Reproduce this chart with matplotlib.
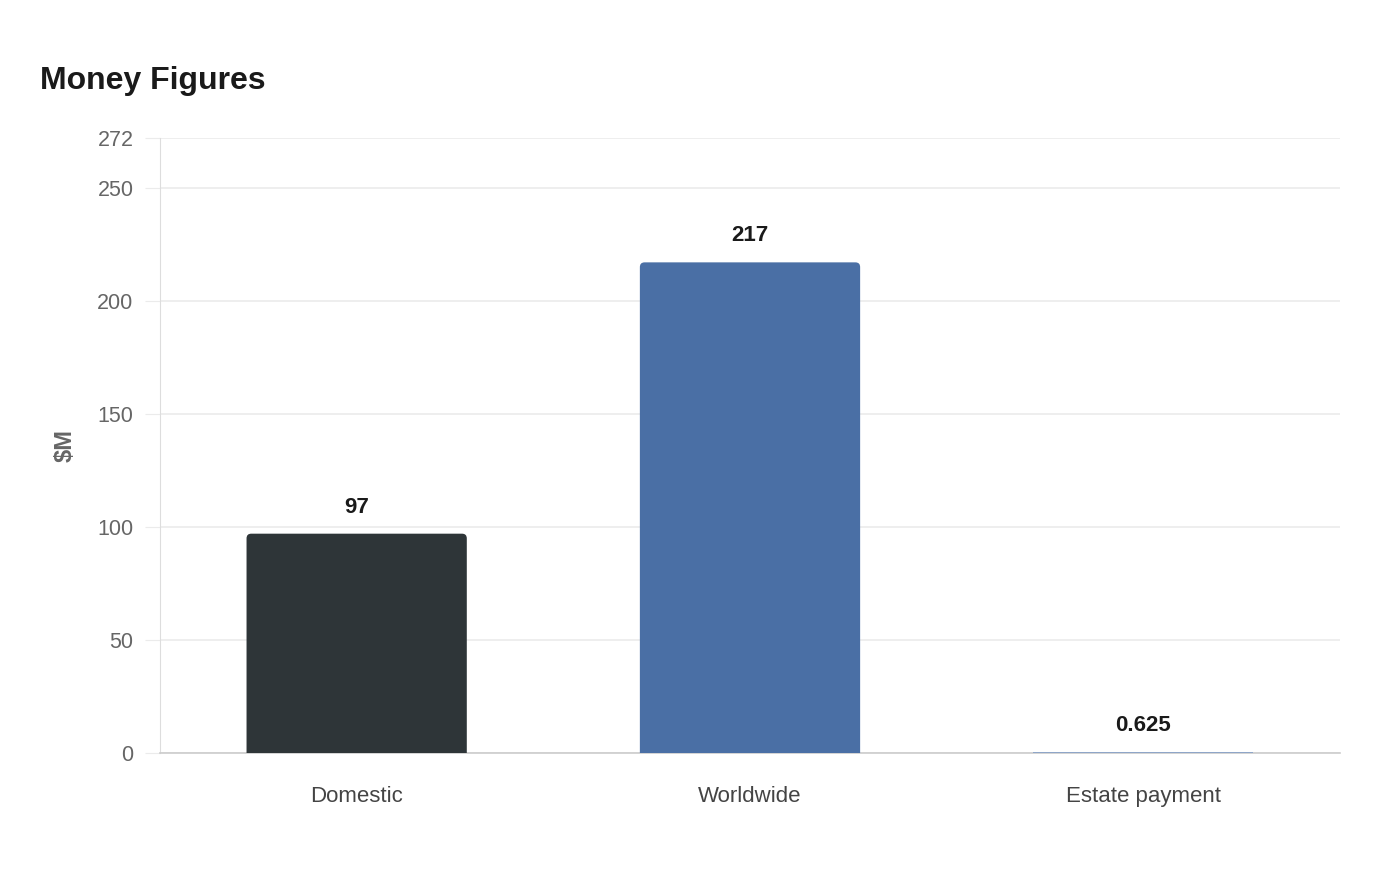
import matplotlib
matplotlib.use("Agg")
import matplotlib.pyplot as plt
from matplotlib.patches import FancyBboxPatch

categories = ["Domestic", "Worldwide", "Estate payment"]
values = [97, 217, 0.625]
value_labels = ["97", "217", "0.625"]
colors = ["#2e3538", "#4a6fa5", "#8fa6c8"]
yticks = [0, 50, 100, 150, 200, 250, 272]

plt.rcParams['font.family'] = ['Liberation Sans', 'DejaVu Sans']

fig = plt.figure(figsize=(14, 8.8), dpi=100)
ax = fig.add_axes([160/1400, 1 - 753/880, 1180/1400, (753-138)/880])

x = list(range(len(categories)))
bars = ax.bar(x, values, width=0.56, color=colors, zorder=3)

ax.set_xlim(-0.5, 2.5)
ax.set_ylim(0, 272)

# rounded top corners: redraw taller bars with a rounded box (bottom hidden below axis)
aspect = (272 / 615) / (3 / 1180)
for b in bars:
    h = b.get_height()
    if h > 5:
        b.set_visible(False)
        p = FancyBboxPatch((b.get_x(), -10), b.get_width(), h + 10,
                           boxstyle="round,pad=0,rounding_size=0.012",
                           mutation_aspect=aspect, facecolor=b.get_facecolor(),
                           edgecolor='none', zorder=3, clip_on=True)
        ax.add_patch(p)

ax.set_yticks(yticks)
ax.set_yticklabels([str(t) for t in yticks])
ax.set_xticks(x)
ax.set_xticklabels(categories)

ax.grid(axis='y', color='#ebebeb', linewidth=1.2, zorder=0)
ax.tick_params(axis='y', length=11, color='#ebebeb', labelsize=15.5, labelcolor='#666666', pad=8)
ax.tick_params(axis='x', length=0, labelsize=16, labelcolor='#444444', pad=23.5)

for s in ['top', 'right']:
    ax.spines[s].set_visible(False)
ax.spines['left'].set_color('#dddddd')
ax.spines['bottom'].set_color('#cccccc')
ax.spines['bottom'].set_linewidth(1.2)

for xi, v, lab in zip(x, values, value_labels):
    ax.annotate(lab, (xi, v), xytext=(0, 11.5), textcoords='offset points',
                ha='center', va='bottom', fontsize=16, fontweight='bold', color='#1a1a1a')

ax.set_ylabel("$M", fontsize=17, fontweight='bold', color='#666666', labelpad=15)

fig.text(40/1400, 1 - 81/880, "Money Figures", fontsize=23, fontweight='bold',
         color='#1a1a1a', ha='left', va='center')

fig.savefig("out.png", dpi=100, facecolor='white')
